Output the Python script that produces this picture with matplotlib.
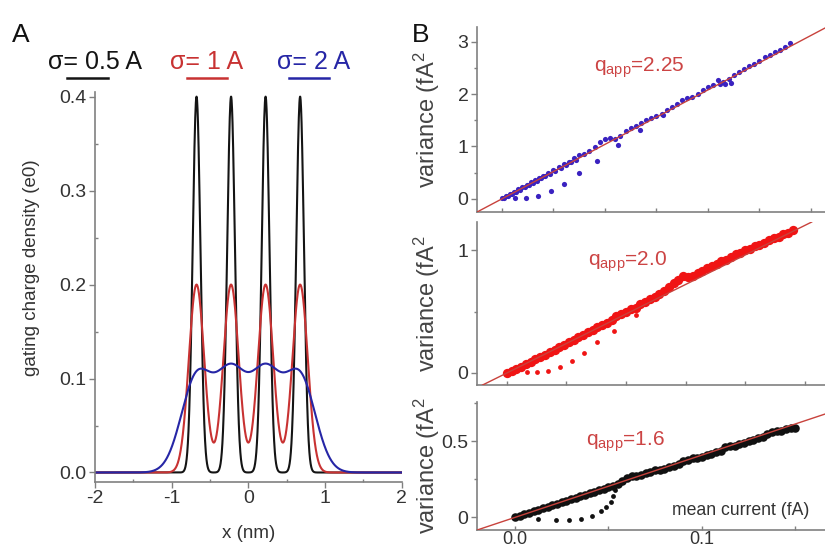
import numpy as np
import matplotlib.pyplot as plt
from matplotlib.ticker import MultipleLocator

plt.rcParams['font.family'] = ['Liberation Sans', 'DejaVu Sans']
plt.rcParams['mathtext.default'] = 'regular'
plt.rcParams['axes.unicode_minus'] = False

# ---- panel A: gating charge profiles (4 charges, gaussian smeared) ----
charge_centers = [-0.675, -0.225, 0.225, 0.675]   # nm
sigmas = [0.05, 0.10, 0.20]                        # nm  (0.5, 1, 2 A)
peak_heights = [0.4, 0.2, 0.1]
sigma_labels = ['σ= 0.5 A', 'σ= 1 A', 'σ= 2 A']
curve_colors = ['#141414', '#c83232', '#2626a6']
a_xticks = [-2, -1, 0, 1, 2]
a_yticks = [0.0, 0.1, 0.2, 0.3, 0.4]

# ---- panel B: variance vs mean current ----
blue_x = [0.000, 0.004, 0.008, 0.012, 0.016, 0.020, 0.024, 0.028, 0.032, 0.036,
          0.040, 0.045, 0.050, 0.055, 0.060, 0.065, 0.070, 0.075, 0.080, 0.085,
          0.090, 0.095, 0.100, 0.105, 0.110, 0.115, 0.120, 0.125, 0.130, 0.135,
          0.140, 0.145, 0.150, 0.155, 0.160, 0.165, 0.170, 0.175, 0.180, 0.185,
          0.190, 0.195, 0.200, 0.205, 0.210, 0.215, 0.220, 0.225, 0.230, 0.235,
          0.240, 0.245, 0.250, 0.255, 0.260, 0.265, 0.270, 0.275, 0.280,
          0.002, 0.006, 0.010, 0.014, 0.018, 0.022, 0.026, 0.030, 0.034, 0.038,
          0.042, 0.047, 0.052, 0.057, 0.062, 0.067, 0.072, 0.212, 0.217, 0.222]
blue_y = [0.02, 0.06, 0.10, 0.14, 0.19, 0.23, 0.27, 0.32, 0.36, 0.40,
          0.44, 0.50, 0.55, 0.60, 0.66, 0.71, 0.78, 0.84, 0.86, 0.92,
          0.99, 1.08, 1.14, 1.16, 1.15, 1.20, 1.29, 1.36, 1.40, 1.45,
          1.50, 1.55, 1.58, 1.62, 1.70, 1.76, 1.82, 1.88, 1.93, 1.95,
          2.01, 2.07, 2.13, 2.18, 2.27, 2.24, 2.28, 2.37, 2.42, 2.47,
          2.53, 2.58, 2.63, 2.70, 2.74, 2.80, 2.85, 2.90, 2.97,
          0.01, 0.05, 0.09, 0.13, 0.17, 0.22, 0.26, 0.30, 0.35, 0.39,
          0.43, 0.48, 0.53, 0.59, 0.64, 0.70, 0.75, 2.20, 2.19, 2.21]
blue_out_x = [0.0126, 0.0233, 0.035, 0.0476, 0.060, 0.075, 0.092, 0.113, 0.134, 0.156]
blue_out_y = [0.02, 0.02, 0.06, 0.15, 0.29, 0.50, 0.73, 1.03, 1.32, 1.60]

red_x = [0.000, 0.004, 0.008, 0.012, 0.016, 0.020, 0.024, 0.028, 0.032, 0.036,
         0.040, 0.044, 0.048, 0.052, 0.056, 0.060, 0.064, 0.068, 0.072, 0.076,
         0.080, 0.084, 0.088, 0.092, 0.096, 0.100, 0.104, 0.108, 0.112, 0.116,
         0.120, 0.124, 0.128, 0.132, 0.136, 0.140, 0.144, 0.148, 0.152, 0.156,
         0.160, 0.164, 0.168, 0.172, 0.176, 0.180, 0.184, 0.188, 0.192, 0.196,
         0.200, 0.204, 0.208, 0.212, 0.216, 0.220, 0.224, 0.228, 0.232, 0.236, 0.240]
red_y = [0.00, 0.02, 0.03, 0.05, 0.07, 0.09, 0.11, 0.13, 0.15, 0.17,
         0.19, 0.21, 0.23, 0.25, 0.27, 0.29, 0.31, 0.33, 0.35, 0.37,
         0.39, 0.41, 0.43, 0.46, 0.48, 0.50, 0.52, 0.53, 0.56, 0.58,
         0.60, 0.62, 0.64, 0.67, 0.70, 0.73, 0.76, 0.79, 0.78, 0.79,
         0.81, 0.83, 0.85, 0.87, 0.89, 0.91, 0.92, 0.94, 0.97, 0.98,
         1.00, 1.01, 1.03, 1.04, 1.06, 1.08, 1.10, 1.11, 1.13, 1.14, 1.16]
red_out_x = [0.0168, 0.0252, 0.0345, 0.0445, 0.0546, 0.0647, 0.0756, 0.0899, 0.108]
red_out_y = [0.01, 0.01, 0.02, 0.05, 0.10, 0.16, 0.25, 0.34, 0.47]

black_x = [0.0000, 0.0025, 0.0050, 0.0075, 0.0100, 0.0125, 0.0150, 0.0175, 0.0200, 0.0225,
           0.0250, 0.0275, 0.0300, 0.0325, 0.0350, 0.0375, 0.0400, 0.0425, 0.0450, 0.0475,
           0.0500, 0.0525, 0.0550, 0.0575, 0.0600, 0.0625, 0.0650, 0.0675, 0.0700, 0.0725,
           0.0750, 0.0775, 0.0800, 0.0825, 0.0850, 0.0875, 0.0900, 0.0925, 0.0950, 0.0975,
           0.1000, 0.1025, 0.1050, 0.1075, 0.1100, 0.1125, 0.1150, 0.1175, 0.1200, 0.1225,
           0.1250, 0.1275, 0.1300, 0.1325, 0.1350, 0.1375, 0.1400, 0.1425, 0.1450, 0.1475, 0.1500]
black_y = [0.00, 0.01, 0.02, 0.03, 0.04, 0.05, 0.06, 0.07, 0.08, 0.09,
           0.10, 0.11, 0.12, 0.13, 0.14, 0.15, 0.16, 0.17, 0.18, 0.19,
           0.20, 0.21, 0.22, 0.24, 0.26, 0.27, 0.27, 0.28, 0.29, 0.30,
           0.31, 0.31, 0.32, 0.33, 0.34, 0.35, 0.37, 0.38, 0.39, 0.39,
           0.40, 0.41, 0.42, 0.43, 0.44, 0.46, 0.47, 0.47, 0.48, 0.49,
           0.50, 0.51, 0.52, 0.53, 0.55, 0.56, 0.57, 0.57, 0.58, 0.59, 0.59]
black_out_x = [0.0123, 0.022, 0.029, 0.0353, 0.041, 0.046, 0.049, 0.0513, 0.0524, 0.0535]
black_out_y = [-0.01, -0.02, -0.02, -0.01, 0.01, 0.04, 0.07, 0.10, 0.14, 0.18]

fit_slopes = [10.4, 4.8, 4.1]
q_labels = ['q$_{app}$=2.25', 'q$_{app}$=2.0', 'q$_{app}$=1.6']
b_xticklabels = ['0.0', '0.1']

spine_gray = '#808080'
text_gray = '#333333'
label_gray = '#444444'
fit_color = '#c8423c'

fig = plt.figure(figsize=(8.25, 5.52), dpi=100)

# ---------------- panel A ----------------
axA = fig.add_axes([0.115, 0.127, 0.372, 0.7065])
x = np.linspace(-2, 2, 2001)
for sig, h, col in zip(sigmas, peak_heights, curve_colors):
    dens = np.zeros_like(x)
    for c in charge_centers:
        dens += h * np.exp(-(x - c) ** 2 / (2 * sig ** 2))
    axA.plot(x, dens, color=col, lw=1.5)

axA.set_xlim(-2, 2)
axA.set_ylim(-0.01, 0.405)
axA.set_xticks(a_xticks)
axA.set_yticks(a_yticks)
axA.xaxis.set_minor_locator(MultipleLocator(0.5))
axA.yaxis.set_minor_locator(MultipleLocator(0.05))
for s in ['top', 'right']:
    axA.spines[s].set_visible(False)
for s in ['left', 'bottom']:
    axA.spines[s].set_color(spine_gray)
    axA.spines[s].set_linewidth(1.2)
axA.tick_params(which='major', direction='out', length=4, width=1, color=spine_gray,
                labelsize=14, labelcolor=text_gray, pad=2)
axA.tick_params(which='minor', direction='in', length=2.5, width=1, color=spine_gray)
axA.set_xlabel('x (nm)', fontsize=13.5, color=text_gray)
axA.set_ylabel('gating charge density (e0)', fontsize=13.5, color=text_gray)
axA.xaxis.set_label_coords(0.5, -0.11)
axA.yaxis.set_label_coords(-0.179, 0.549)

# legend drawn as text with short underlines
leg_x = [48, 170, 277]
line_x = [(67, 108), (187, 227), (289, 329)]
for lab, col, lx, (x0, x1) in zip(sigma_labels, curve_colors, leg_x, line_x):
    fig.text(lx / 825, 1 - 62 / 552, lab, color=col, fontsize=18, ha='left', va='center')
    fig.add_artist(plt.Line2D([x0 / 825, x1 / 825], [1 - 78 / 552, 1 - 78 / 552],
                              color=col, lw=1.8, transform=fig.transFigure))

fig.text(12 / 825, 1 - 42 / 552, 'A', fontsize=19, color='#111111', va='baseline')
fig.text(412 / 825, 1 - 42 / 552, 'B', fontsize=19, color='#111111', va='baseline')

# ---------------- panel B ----------------
boxes = [[0.578, 0.616, 0.422, 0.335],
         [0.578, 0.3025, 0.422, 0.2953],
         [0.578, 0.040, 0.422, 0.232]]
xlims = [(-0.0243, 0.3136), (-0.0252, 0.267), (-0.0203, 0.1658)]
ylims = [(-0.25, 3.28), (-0.098, 1.228), (-0.082, 0.76)]
series = [(blue_x, blue_y, blue_out_x, blue_out_y, '#3a22c0', 14, 14),
          (red_x, red_y, red_out_x, red_out_y, '#f01414', 45, 12),
          (black_x, black_y, black_out_x, black_out_y, '#111111', 38, 12)]
q_pos = [(0.466, 0.78), (0.434, 0.755), (0.428, 0.69)]

axes_b = []
for i, box in enumerate(boxes):
    ax = fig.add_axes(box)
    axes_b.append(ax)
    bx, by, ox, oy, col, s_band, s_out = series[i]
    ax.scatter(bx, by, s=s_band, color=col, lw=0, zorder=2)
    ax.scatter(ox, oy, s=s_out, color=col, lw=0, zorder=2)
    ax.axline((0, 0), slope=fit_slopes[i], color=fit_color, lw=1.0, zorder=3)
    ax.set_xlim(*xlims[i])
    ax.set_ylim(*ylims[i])
    for s in ['top', 'right']:
        ax.spines[s].set_visible(False)
    for s in ['left', 'bottom']:
        ax.spines[s].set_color(spine_gray)
        ax.spines[s].set_linewidth(1.2)
    ax.tick_params(axis='y', which='major', direction='out', length=4, width=1,
                   color=spine_gray, labelsize=14, labelcolor=text_gray, pad=2)
    ax.tick_params(axis='y', which='minor', direction='out', length=2.5, width=1,
                   color=spine_gray)
    ax.tick_params(axis='x', which='both', direction='in', length=3, width=1,
                   color=spine_gray, labelsize=13, labelcolor=text_gray, pad=1)
    ax.set_ylabel('variance (fA$^2$', fontsize=17, color=label_gray)
    ax.yaxis.set_label_coords(-0.10, 0.5)
    qx, qy = q_pos[i]
    ax.text(qx, qy, q_labels[i], transform=ax.transAxes, fontsize=15,
            color='#cc4444', ha='center', va='center')

ax1, ax2, ax3 = axes_b
ax1.xaxis.set_major_locator(MultipleLocator(0.05))
ax1.yaxis.set_major_locator(MultipleLocator(1))
ax1.yaxis.set_minor_locator(MultipleLocator(0.5))
ax1.set_xticklabels([])
ax2.xaxis.set_major_locator(MultipleLocator(0.05))
ax2.yaxis.set_major_locator(MultipleLocator(1))
ax2.yaxis.set_minor_locator(MultipleLocator(0.5))
ax2.set_xticklabels([])
ax3.set_xticks([0.0, 0.1])
ax3.set_xticklabels(b_xticklabels)
ax3.xaxis.set_minor_locator(MultipleLocator(0.05))
ax3.set_yticks([0, 0.5])
ax3.set_yticklabels(['0', '0.5'])
ax3.yaxis.set_minor_locator(MultipleLocator(0.25))
ax3.text(0.759, 0.15, 'mean current (fA)', transform=ax3.transAxes, fontsize=12.7,
         color=text_gray, ha='center', va='center')

fig.savefig('out.png', dpi=100)
